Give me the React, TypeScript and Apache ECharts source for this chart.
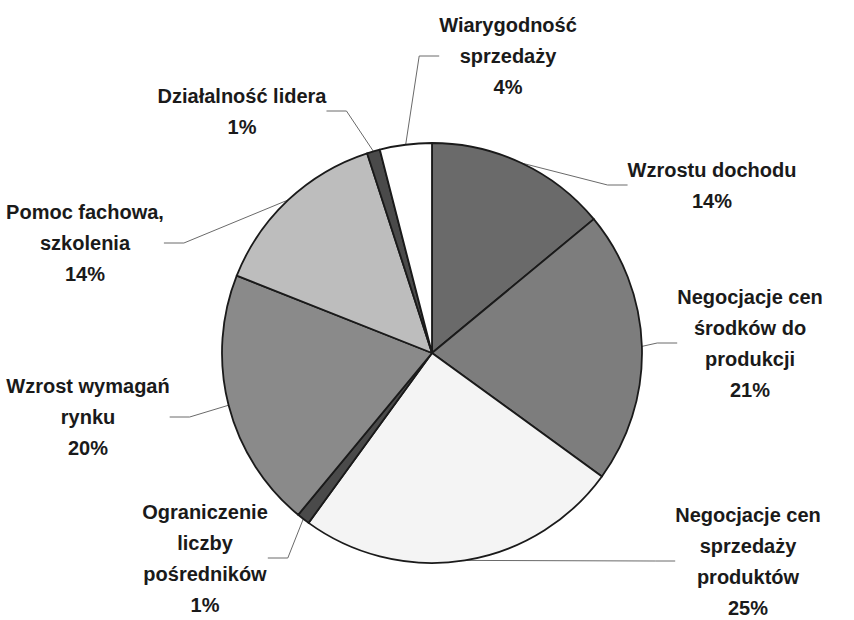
import React, { useEffect, useRef } from "react";
import * as echarts from "echarts";

const categories = [
  "Wzrostu dochodu",
  "Negocjacje cen\nśrodków do\nprodukcji",
  "Negocjacje cen\nsprzedaży\nproduktów",
  "Ograniczenie\nliczby\npośredników",
  "Wzrost wymagań\nrynku",
  "Pomoc fachowa,\nszkolenia",
  "Działalność lidera",
  "Wiarygodność\nsprzedaży",
];
const values = [14, 21, 25, 1, 20, 14, 1, 4];
const colors = ["#6a6a6a", "#7d7d7d", "#f4f4f4", "#4a4a4a", "#8a8a8a", "#bdbdbd", "#4a4a4a", "#ffffff"];
// label block centres (layout only)
const labelPos: [number, number][] = [
  [712, 185],
  [750, 343],
  [748, 561],
  [205, 558],
  [88, 417],
  [85, 243],
  [242, 111],
  [508, 56],
];

export default function App() {
  const ref = useRef<HTMLDivElement>(null);
  useEffect(() => {
    document.body.style.margin = "0";
    const chart = echarts.init(ref.current!, undefined, { renderer: "svg" });
    chart.setOption({
      animation: false,
      backgroundColor: "#ffffff",
      series: [
        {
          type: "pie",
          center: [432, 353],
          radius: 210,
          startAngle: 90,
          clockwise: true,
          avoidLabelOverlap: false,
          data: categories.map((c, i) => ({
            name: c,
            value: values[i],
            itemStyle: { color: colors[i] },
          })),
          itemStyle: { borderColor: "#1a1a1a", borderWidth: 1.8 },
          label: {
            show: true,
            position: "outside",
            formatter: (p: any) => `${p.name}\n${p.value}%`,
            fontFamily: "Liberation Sans, Arial, sans-serif",
            fontWeight: "bold",
            fontSize: 20,
            lineHeight: 31,
            color: "#1a1a1a",
            align: "center",
          },
          labelLine: {
            show: true,
            length: 20,
            length2: 20,
            lineStyle: { color: "#6a6a6a", width: 1 },
          },
          labelLayout: (params: any) => {
            const [x, y] = labelPos[params.dataIndex];
            return { x, y, align: "center", verticalAlign: "middle" };
          },
          emphasis: { disabled: true },
        },
      ],
    });
    return () => chart.dispose();
  }, []);
  return <div ref={ref} style={{ width: 854, height: 620 }} />;
}
